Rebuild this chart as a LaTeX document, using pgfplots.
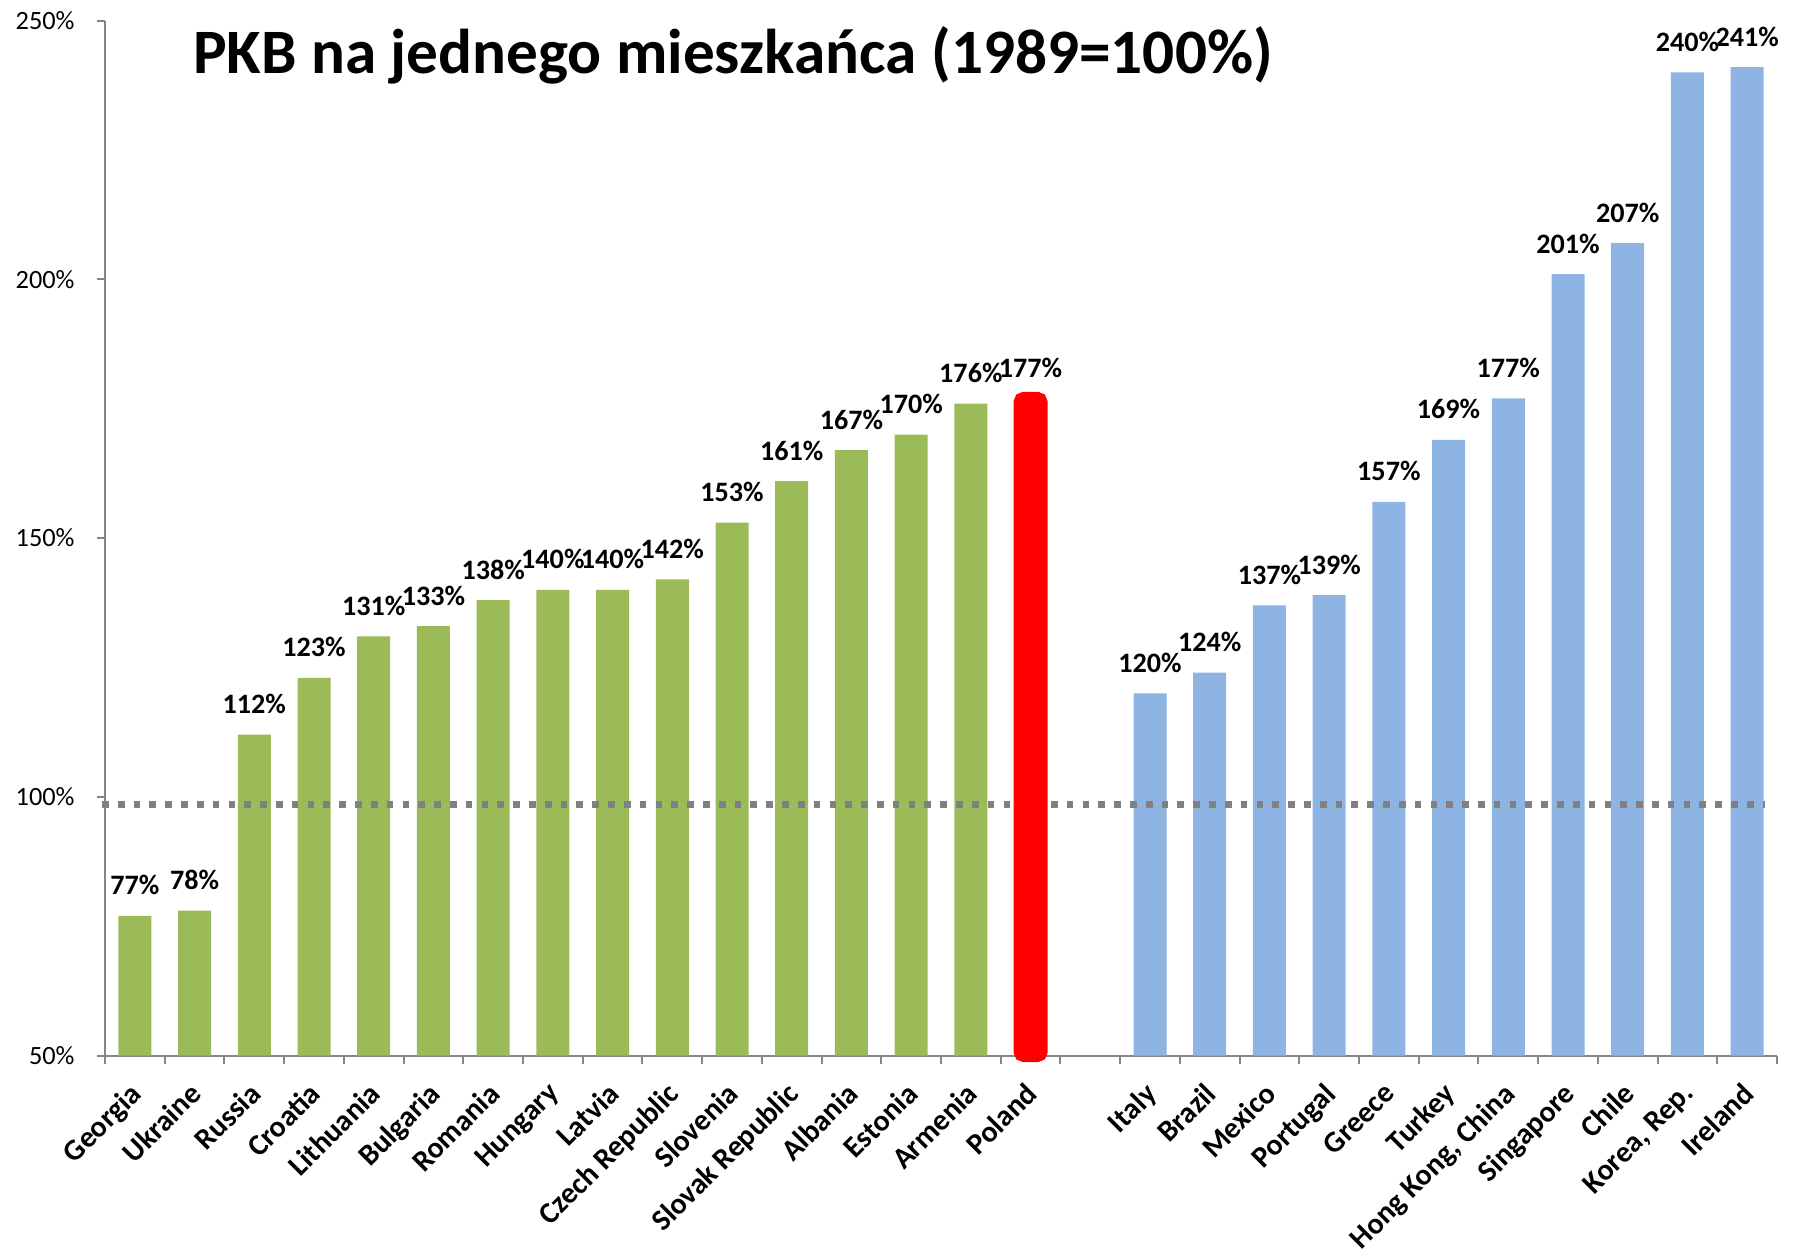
\documentclass[border=0pt]{standalone}
\usepackage{pgfplots}
\pgfplotsset{compat=1.18}
\usepackage{fontspec}
\setmainfont{Carlito}
\definecolor{barGreen}{HTML}{9BBB59}
\definecolor{barBlue}{HTML}{8DB4E2}
\definecolor{axGray}{HTML}{868686}
\definecolor{dotGray}{HTML}{808080}

\begin{document}
\begin{tikzpicture}
\begin{axis}[
    at={(0,0)}, anchor=south west,
    width=167.2mm, height=103.5mm, scale only axis,
    xmin=-0.5, xmax=27.5, ymin=50, ymax=250,
    clip=false,
    y coord trafo/.code={\pgfmathparse{#1-50}},
    y coord inv trafo/.code={\pgfmathparse{#1+50}},
    axis x line*=bottom, axis y line*=left,
    axis line style={axGray, line width=0.6pt},
    tick align=outside, major tick length=0.8mm,
    tick style={axGray, line width=0.6pt},
    ytick={50,100,150,200,250},
    yticklabels={50\%,100\%,150\%,200\%,250\%},
    yticklabel style={font=\fontsize{7.5}{9}\selectfont, xshift=-1mm},
    xtick={-0.5,0.5,...,27.5}, xticklabels={},
    extra x ticks={0,1,2,3,4,5,6,7,8,9,10,11,12,13,14,15,17,18,19,20,21,22,23,24,25,26,27},
    extra x tick labels={Georgia,Ukraine,Russia,Croatia,Lithuania,Bulgaria,Romania,Hungary,Latvia,Czech Republic,Slovenia,Slovak Republic,Albania,Estonia,Armenia,Poland,Italy,Brazil,Mexico,Portugal,Greece,Turkey,{Hong Kong, China},Singapore,Chile,{Korea, Rep.},Ireland},
    extra x tick style={major tick length=0pt,
        xticklabel style={xshift=-0.65mm, yshift=-2.45mm, rotate=45, anchor=north east, inner sep=0pt,
            font=\bfseries\fontsize{8.5}{10}\selectfont}},
    /pgf/number format/assume math mode=true,
    labels/.style={nodes near coords={\pgfmathprintnumber[fixed,precision=0]{\pgfplotspointmeta}\%},
        point meta=rawy,
        every node near coord/.append style={font=\bfseries\fontsize{8}{9}\selectfont,
            black, anchor=base, inner sep=0pt, yshift=2.1mm}},
]
% kraje postkomunistyczne
\addplot[ybar, bar width=3.3mm, bar shift=0pt, fill=barGreen, draw=none, labels] coordinates {
    (0,77) (1,78) (2,112) (3,123) (4,131) (5,133) (6,138) (7,140)
    (8,140) (9,142) (10,153) (11,161) (12,167) (13,170) (14,176)};
% pozostale kraje
\addplot[ybar, bar width=3.3mm, bar shift=0pt, fill=barBlue, draw=none, labels] coordinates {
    (17,120) (18,124) (19,137) (20,139) (21,157) (22,169) (23,177)
    (24,201) (25,207) (26,240) (27,241)};
% linia 1989
\addplot[dotGray, line width=1.9pt, dash pattern=on 1.9pt off 2.6pt] coordinates {(-0.55,98.5) (27.3,98.5)};
% Polska
\addplot[ybar, bar width=2.1mm, bar shift=0pt, fill=red, draw=red, line width=1.3mm,
    rounded corners=0.4mm, labels] coordinates {(15,177)};
\end{axis}
\node[font=\bfseries\fontsize{18}{20}\selectfont, inner sep=0pt] at (62.8mm,100.0mm)
    {PKB na jednego mieszkańca (1989=100\%)};
\pgfresetboundingbox
\path[use as bounding box] (-10.5mm,-19.6mm) rectangle (169.0mm,105.56mm);
\end{tikzpicture}
\end{document}
